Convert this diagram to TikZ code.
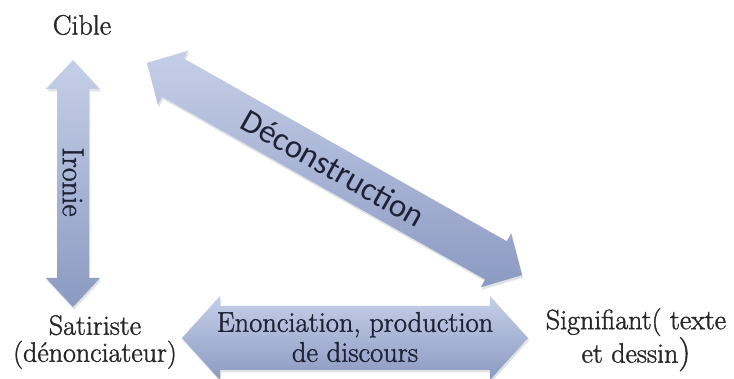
\documentclass[tikz,border=0pt]{standalone}
\usepackage{fontspec}
\newfontfamily\labelserif{Latin Modern Roman}[FakeBold=1.3]
\newfontfamily\arrowsans{Carlito}
\definecolor{arrowlight}{HTML}{C6CFE8}
\definecolor{arrowdark}{HTML}{8B9AC2}
\definecolor{inktext}{HTML}{1E2236}
% Outline of a double-headed block arrow along the x axis:
% length #1, shaft half-width #2, head half-width #3, head length #4
\newcommand\arrowoutline[4]{%
  (-#1/2,0) -- ({-#1/2+#4},#3) -- ({-#1/2+#4},#2) -- ({#1/2-#4},#2)
  -- ({#1/2-#4},#3) -- (#1/2,0) -- ({#1/2-#4},-#3) -- ({#1/2-#4},-#2)
  -- ({-#1/2+#4},-#2) -- ({-#1/2+#4},-#3) -- cycle}
% Block arrow centred at (#1,#2), turned by #3 degrees, with a soft shadow
\newcommand\blockarrow[7]{%
  \begin{scope}[shift={({#1+1},{#2+2.5})}, rotate=#3]
    \fill[arrowshadow] \arrowoutline{#4}{#5}{#6}{#7};
  \end{scope}
  \begin{scope}[shift={(#1,#2)}, rotate=#3]
    \path[arrowbody] \arrowoutline{#4}{#5}{#6}{#7};
  \end{scope}}
\begin{document}
\begin{tikzpicture}[x=1pt, y=-1pt,
  lbl/.style={font=\labelserif\fontsize{28}{27}\selectfont, text=black!85, align=center, inner sep=0pt},
  arrowtext/.style={font=\labelserif\fontsize{28.5}{30}\selectfont, text=inktext, align=center, inner sep=0pt},
  arrowbody/.style={top color=arrowlight, bottom color=arrowdark, draw=none},
  arrowshadow/.style={fill=arrowdark!60!black, opacity=0.18}]
  \useasboundingbox[fill=white] (0,0) rectangle (734,379);

  % block arrows
  \blockarrow{73}{183.5}{90}{247}{16}{27}{29}
  \blockarrow{334.5}{169}{-29.5}{431}{22}{31}{30}
  \blockarrow{355}{338}{0}{346}{32}{42}{38}

  % corner labels
  \node[lbl] (cible) at (82,25) {Cible};
  \node[lbl] (sat) at (95,342) {Satiriste\\(dénonciateur)};
  \node[lbl, anchor=north] (sig) at (636,308) {Signifiant( texte\\et dessin{\fontsize{34}{27}\selectfont)}};

  % labels carried by the arrows
  \node[arrowtext, font=\labelserif\fontsize{30}{30}\selectfont, rotate=-90] (ironie) at (73,182) {Ironie};
  \node[arrowtext] (enon) at (355,337) {Enonciation, production\\de discours};
  \node[font=\arrowsans\fontsize{33}{33}\selectfont, text=inktext, rotate=-29.5, inner sep=0pt]
    (decon) at (333,168) {Déconstruction};
\end{tikzpicture}
\end{document}
